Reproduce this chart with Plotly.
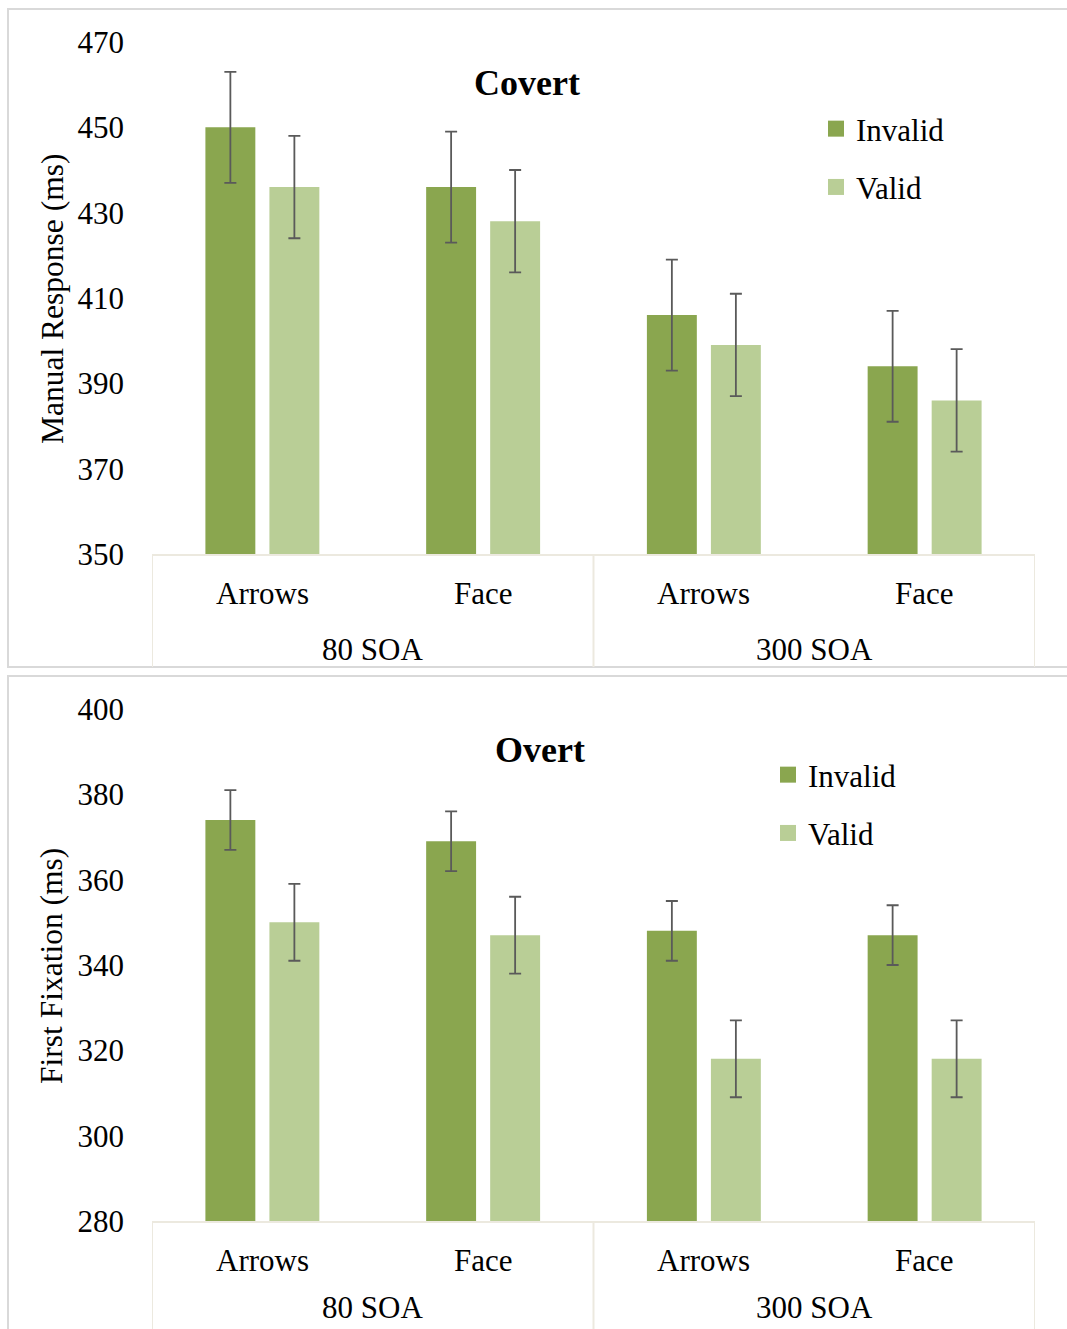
import plotly.graph_objects as go

# ---- data ----
soa = ["80 SOA", "80 SOA", "300 SOA", "300 SOA"]
cue = ["Arrows", "Face", "Arrows", "Face"]
groups = ["80 SOA", "300 SOA"]
cats = [f"{c} ({s})" for c, s in zip(cue, soa)]

covert_invalid = [450, 436, 406, 394]
covert_valid = [436, 428, 399, 386]
covert_invalid_err = [13, 13, 13, 13]
covert_valid_err = [12, 12, 12, 12]

overt_invalid = [374, 369, 348, 347]
overt_valid = [350, 347, 318, 318]
overt_invalid_err = [7, 7, 7, 7]
overt_valid_err = [9, 9, 9, 9]

C_INV = "#8aa64f"
C_VAL = "#b9ce96"
ERR = "#5a5a5a"
FONT = "Liberation Serif, Times New Roman, serif"

W, H = 1067, 1329
def px(x): return x / W
def py(y): return 1 - y / H

fig = go.Figure()

def add_bars(vals, errs, name, color, xa, ya, legend):
    fig.add_trace(go.Bar(
        x=cats, y=vals, name=name, marker=dict(color=color, line=dict(width=0)),
        error_y=dict(type="data", array=errs, color=ERR, thickness=1.8, width=6),
        xaxis=xa, yaxis=ya, showlegend=False,
    ))
    # legend entry with a larger square swatch
    fig.add_trace(go.Scatter(
        x=[None], y=[None], mode="markers", name=name,
        marker=dict(symbol="square", size=17, color=color),
        xaxis=xa, yaxis=ya, legend=legend, legendgroup=legend + name,
    ))

add_bars(covert_invalid, covert_invalid_err, "Invalid", C_INV, "x", "y", "legend")
add_bars(covert_valid, covert_valid_err, "Valid", C_VAL, "x", "y", "legend")
add_bars(overt_invalid, overt_invalid_err, "Invalid", C_INV, "x2", "y2", "legend2")
add_bars(overt_valid, overt_valid_err, "Valid", C_VAL, "x2", "y2", "legend2")

xdom = [px(152), px(1035)]
top_dom = [py(554), py(42)]
bot_dom = [py(1221), py(709)]
AXC = "#ece9df"

xcommon = dict(domain=xdom, range=[-0.5, 3.5], showticklabels=False, showline=True,
               linecolor=AXC, linewidth=2, ticks="", showgrid=False, zeroline=False,
               fixedrange=True, automargin=False, type="category")
ycommon = dict(showgrid=False, zeroline=False, showline=False, automargin=False,
               tickfont=dict(family=FONT, size=31, color="black"), ticklabelstandoff=27,
               dtick=20, tickmode="linear", fixedrange=True)

fig.update_layout(
    template="none",
    width=W, height=H, margin=dict(l=0, r=0, t=0, b=0, autoexpand=False),
    paper_bgcolor="white", plot_bgcolor="white",
    barmode="group", bargap=0.42, bargroupgap=0.22,
    font=dict(family=FONT, color="black"),
    xaxis=dict(**xcommon, anchor="y"),
    xaxis2=dict(**xcommon, anchor="y2"),
    yaxis=dict(**ycommon, domain=top_dom, range=[350, 470], tick0=350, anchor="x"),
    yaxis2=dict(**ycommon, domain=bot_dom, range=[280, 400], tick0=280, anchor="x2"),
    legend=dict(x=px(816), y=py(102), xanchor="left", yanchor="top",
                font=dict(family=FONT, size=31), tracegroupgap=15, bgcolor="rgba(0,0,0,0)"),
    legend2=dict(x=px(768), y=py(748), xanchor="left", yanchor="top",
                 font=dict(family=FONT, size=31), tracegroupgap=15, bgcolor="rgba(0,0,0,0)"),
    showlegend=True,
)

shapes = []
# outer chart borders
shapes.append(dict(type="rect", xref="paper", yref="paper", x0=px(8), x1=px(1075),
                   y0=py(667), y1=py(9), line=dict(color="#d9d9d9", width=2)))
shapes.append(dict(type="rect", xref="paper", yref="paper", x0=px(8), x1=px(1075),
                   y0=py(1340), y1=py(676), line=dict(color="#d9d9d9", width=2)))
# category dividers
for xa, ytop, ybot in (("x", 554, 667), ("x2", 1221, 1340)):
    for xv in (-0.5, 1.5, 3.5):
        shapes.append(dict(type="line", xref=xa, yref="paper", x0=xv, x1=xv,
                           y0=py(ybot), y1=py(ytop), line=dict(color=AXC, width=2)))
fig.update_layout(shapes=shapes)

ann = []
for xa, ycue, ysoa in (("x", 593, 649), ("x2", 1260, 1307)):
    for i, c in enumerate(cue):
        ann.append(dict(xref=xa, yref="paper", x=i, y=py(ycue), text=c, showarrow=False,
                        font=dict(size=31), xanchor="center", yanchor="middle"))
    for gi, g in enumerate(groups):
        ann.append(dict(xref=xa, yref="paper", x=gi * 2 + 0.5, y=py(ysoa), text=g, showarrow=False,
                        font=dict(size=31), xanchor="center", yanchor="middle"))
ann.append(dict(xref="paper", yref="paper", x=px(527), y=py(83), text="<b>Covert</b>",
                showarrow=False, font=dict(size=36), xanchor="center", yanchor="middle"))
ann.append(dict(xref="paper", yref="paper", x=px(540), y=py(750), text="<b>Overt</b>",
                showarrow=False, font=dict(size=36), xanchor="center", yanchor="middle"))
ann.append(dict(xref="paper", yref="paper", x=px(52), y=py(299), text="Manual Response (ms)",
                textangle=-90, showarrow=False, font=dict(size=31.5), xanchor="center", yanchor="middle"))
ann.append(dict(xref="paper", yref="paper", x=px(52), y=py(966), text="First Fixation (ms)",
                textangle=-90, showarrow=False, font=dict(size=31.5), xanchor="center", yanchor="middle"))
fig.update_layout(annotations=ann)

fig.write_html("out.html", config={"displayModeBar": False},
               post_script="document.body.style.margin='0px';")
